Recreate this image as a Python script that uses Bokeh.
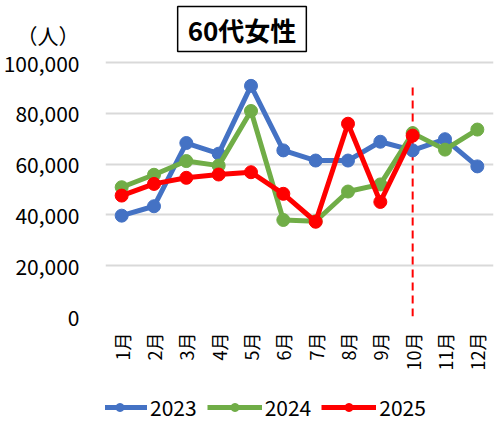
import math
from bokeh.plotting import figure
from bokeh.layouts import column
from bokeh.models import (Range1d, Label, Legend, LegendItem, NumeralTickFormatter,
                          FixedTicker)
from bokeh.embed import file_html
from bokeh.resources import INLINE

months = ["1月", "2月", "3月", "4月", "5月", "6月", "7月", "8月", "9月", "10月", "11月", "12月"]
y2023 = [39700, 43400, 68300, 64100, 90800, 65400, 61400, 61400, 68800, 65400, 69800, 59100]
y2024 = [50900, 55800, 61200, 59400, 80900, 38000, 37500, 49200, 52000, 72200, 65700, 73600]
y2025 = [47600, 52200, 54600, 55900, 56800, 48300, 37300, 75900, 45100, 71200]
y_ticks = [0, 20000, 40000, 60000, 80000, 100000]
y_max_tick = 100000
marker_month = "10月"
marker_top = 90600
title_text = "60代女性"
unit_text = "（人）"
series_names = ["2023", "2024", "2025"]
series_values = [y2023, y2024, y2025]

FONT = "Noto Sans CJK JP"
colors = {"2023": "#4472C4", "2024": "#70AD47", "2025": "#FF0000"}

# layout (pixels)
W = 502
FRAME_LEFT = 105
FRAME_W = 388
FRAME_TOP_GAP = 62      # from frame top to the 100,000 gridline
PLOT_H = 254            # 0 .. 100,000
FRAME_H = FRAME_TOP_GAP + PLOT_H
UNIT_Y_PX = 34          # unit label centre, from frame top
BOTTOM = 76
LEG_H = 30
LEG_X = 92              # legend start (page px)

y_end = y_max_tick * FRAME_H / PLOT_H
unit_pos = y_max_tick * (FRAME_H - UNIT_Y_PX) / PLOT_H

p = figure(x_range=months, y_range=Range1d(0, y_end),
           frame_width=FRAME_W, frame_height=FRAME_H,
           min_border_left=FRAME_LEFT, min_border_right=W - FRAME_LEFT - FRAME_W,
           min_border_top=0, min_border_bottom=BOTTOM,
           output_backend="svg", toolbar_location=None)
p.outline_line_color = None
p.background_fill_color = "white"

p.yaxis.ticker = FixedTicker(ticks=y_ticks + [unit_pos])
p.yaxis.formatter = NumeralTickFormatter(format="0,0")
p.yaxis.major_label_overrides = {unit_pos: unit_text}
p.yaxis.axis_line_color = None
p.yaxis.major_tick_line_color = None
p.yaxis.minor_tick_line_color = None
p.yaxis.major_label_standoff = 20
p.yaxis.major_label_text_font = FONT
p.yaxis.major_label_text_font_size = "21px"
p.yaxis.major_label_text_color = "black"

p.xaxis.axis_line_color = None
p.xaxis.major_tick_line_color = None
p.xaxis.major_label_orientation = math.pi / 2
p.xaxis.major_label_standoff = 10
p.xaxis.major_label_text_font = FONT
p.xaxis.major_label_text_font_size = "18px"
p.xaxis.major_label_text_color = "black"

p.xgrid.grid_line_color = None
p.ygrid.ticker = FixedTicker(ticks=y_ticks)
p.ygrid.grid_line_color = "#D9D9D9"
p.ygrid.grid_line_width = 2

p.segment(x0=[marker_month], y0=[0], x1=[marker_month], y1=[marker_top],
          line_color="#FF0000", line_width=2, line_dash="8 5")

for name, vals in zip(series_names, series_values):
    xs = months[:len(vals)]
    c = colors[name]
    p.line(xs, vals, line_color=c, line_width=5)
    p.scatter(xs, vals, size=13, fill_color=c, line_color=c)

title = Label(x=241.5 - FRAME_LEFT, y=FRAME_H - 28.5, x_units="screen", y_units="screen",
              text=title_text, text_align="center", text_baseline="middle",
              text_font=FONT, text_font_size="26px", text_font_style="bold",
              text_color="black",
              border_line_color="black", border_line_width=1.5,
              background_fill_color="white",
              padding=dict(left=10, right=10, top=4, bottom=4))
p.add_layout(title)

# legend strip (hidden copies of the series supply the legend glyphs)
lf = figure(width=W, height=LEG_H, x_range=months, y_range=Range1d(0, 1),
            frame_width=FRAME_W, frame_height=LEG_H,
            min_border_left=FRAME_LEFT, min_border_right=W - FRAME_LEFT - FRAME_W,
            min_border_top=0, min_border_bottom=0,
            x_axis_location=None, y_axis_location=None,
            output_backend="svg", toolbar_location=None)
lf.grid.visible = False
lf.outline_line_color = None
items = []
for name, vals in zip(series_names, series_values):
    xs = months[:len(vals)]
    c = colors[name]
    l = lf.line(xs, vals, line_color=c, line_width=5, visible=False)
    s = lf.scatter(xs, vals, size=13, fill_color=c, line_color=c, visible=False)
    items.append(LegendItem(label=name, renderers=[l, s]))
legend = Legend(items=items, orientation="horizontal", location=(LEG_X - FRAME_LEFT, 0),
                glyph_width=55, glyph_height=20, label_standoff=3, spacing=10,
                padding=0, margin=0, border_line_color=None,
                background_fill_alpha=0, inactive_fill_alpha=0,
                label_text_font=FONT, label_text_font_size="21px",
                label_text_color="black")
lf.add_layout(legend, "center")

layout = column(p, lf, spacing=0)
open("out.html", "w").write(file_html(layout, INLINE))
